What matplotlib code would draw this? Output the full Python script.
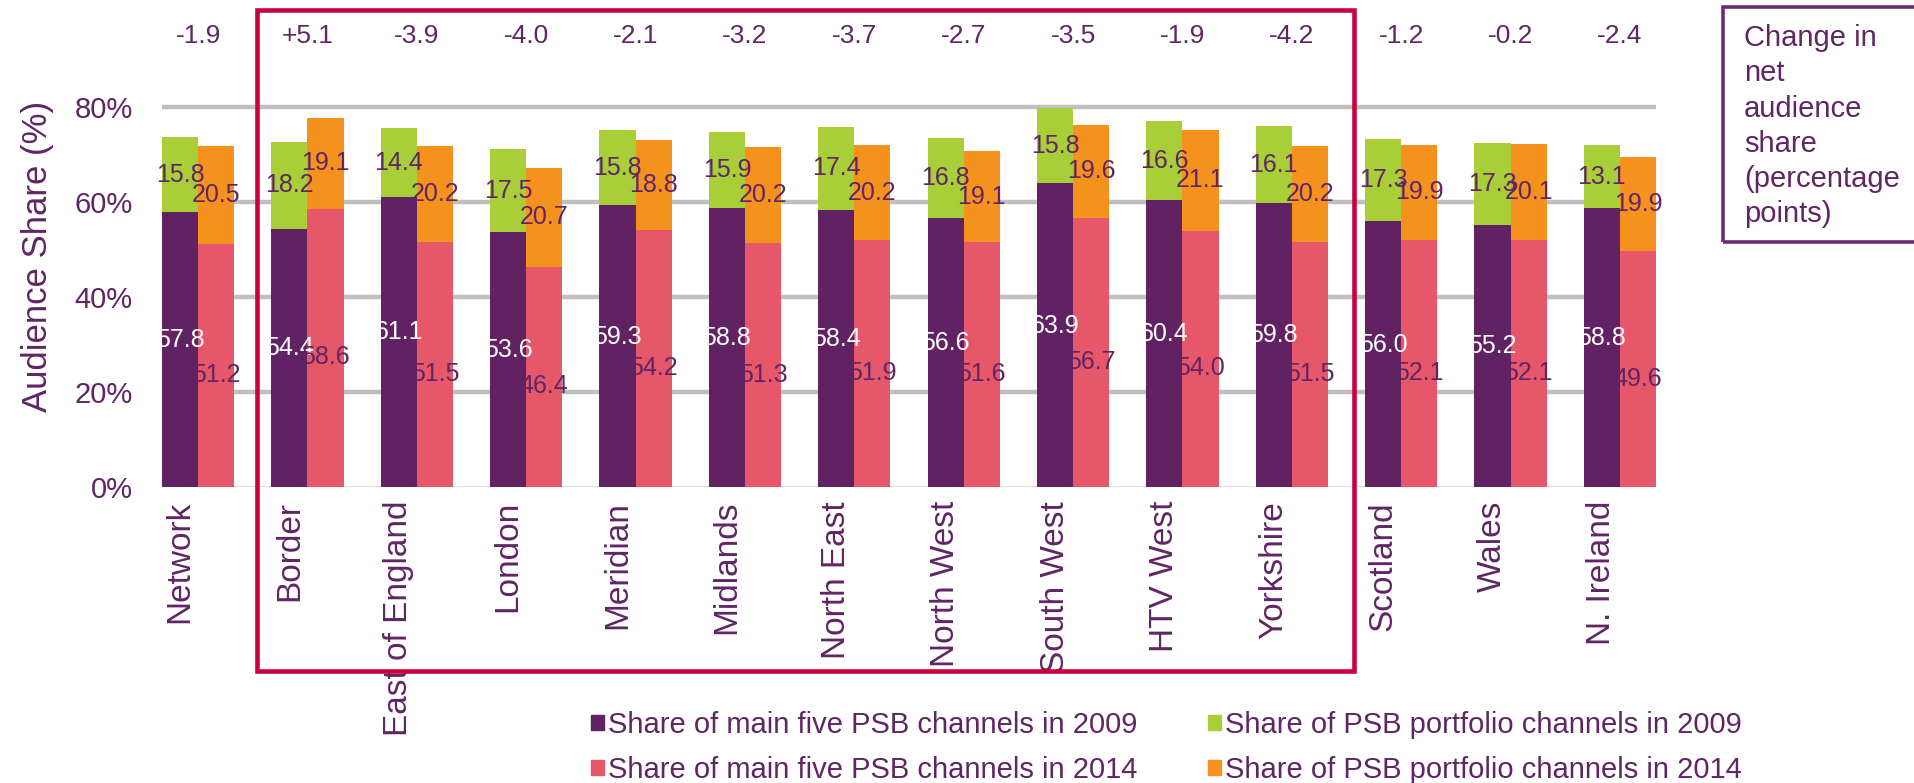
import matplotlib.pyplot as plt
import matplotlib.transforms as mtransforms
from matplotlib.patches import Patch, Rectangle
import numpy as np

plt.rcParams['font.family'] = ['Liberation Sans', 'DejaVu Sans']

regions = ["Network", "Border", "East of England", "London", "Meridian", "Midlands",
           "North East", "North West", "South West", "HTV West", "Yorkshire",
           "Scotland", "Wales", "N. Ireland"]
main_2009 = [57.8, 54.4, 61.1, 53.6, 59.3, 58.8, 58.4, 56.6, 63.9, 60.4, 59.8, 56.0, 55.2, 58.8]
portfolio_2009 = [15.8, 18.2, 14.4, 17.5, 15.8, 15.9, 17.4, 16.8, 15.8, 16.6, 16.1, 17.3, 17.3, 13.1]
main_2014 = [51.2, 58.6, 51.5, 46.4, 54.2, 51.3, 51.9, 51.6, 56.7, 54.0, 51.5, 52.1, 52.1, 49.6]
portfolio_2014 = [20.5, 19.1, 20.2, 20.7, 18.8, 20.2, 20.2, 19.1, 19.6, 21.1, 20.2, 19.9, 20.1, 19.9]
change = ["-1.9", "+5.1", "-3.9", "-4.0", "-2.1", "-3.2", "-3.7", "-2.7", "-3.5", "-1.9", "-4.2",
          "-1.2", "-0.2", "-2.4"]
yticks = [0, 20, 40, 60, 80]
ytick_labels = ["0%", "20%", "40%", "60%", "80%"]

c_main09 = '#602262'
c_port09 = '#A8CE38'
c_main14 = '#E65769'
c_port14 = '#F5921E'
txt = '#5F2564'

fig = plt.figure(figsize=(19.15, 7.83), dpi=100)
ax = fig.add_axes([162 / 1915, 296 / 783, 1494 / 1915, 475 / 783])

x = np.arange(len(regions))
w = 0.33
m09 = np.array(main_2009)
p09 = np.array(portfolio_2009)
m14 = np.array(main_2014)
p14 = np.array(portfolio_2014)

ax.bar(x - w / 2, m09, w, color=c_main09, zorder=3)
ax.bar(x - w / 2, p09, w, bottom=m09, color=c_port09, zorder=3)
ax.bar(x + w / 2, m14, w, color=c_main14, zorder=3)
ax.bar(x + w / 2, p14, w, bottom=m14, color=c_port14, zorder=3)

lab = dict(fontsize=18, ha='center', va='center', zorder=5)
for i in range(len(regions)):
    ax.text(x[i] - w / 2, m09[i] / 2 + 2, f"{m09[i]:.1f}", color='white', **lab)
    ax.text(x[i] - w / 2, m09[i] + p09[i] / 2, f"{p09[i]:.1f}", color=txt, **lab)
    ax.text(x[i] + w / 2, m14[i] / 2 - 2, f"{m14[i]:.1f}", color=txt, **lab)
    ax.text(x[i] + w / 2, m14[i] + p14[i] / 2, f"{p14[i]:.1f}", color=txt, **lab)
    ax.text(x[i], 95.0, change[i], color=txt, fontsize=19, ha='center', va='center')

ax.set_xlim(-w, len(regions) - 1 + w)
ax.set_ylim(0, 100)
for t in yticks[1:]:
    ax.axhline(t, color='#BFBFBF', lw=3.2, zorder=1)
ax.axhline(0, color='#D9D9D9', lw=2, zorder=1)

ax.set_yticks(yticks)
ax.set_yticklabels(ytick_labels, fontsize=21, color=txt)
ax.set_xticks(x)
ax.set_xticklabels(regions, rotation=90, fontsize=24, color=txt, va='top', ha='center')
ax.tick_params(length=0)
ax.tick_params(axis='y', pad=21)
ax.tick_params(axis='x', pad=10)
shift = mtransforms.ScaledTranslation(-0.18, 0, fig.dpi_scale_trans)
for lbl in ax.get_xticklabels():
    lbl.set_transform(lbl.get_transform() + shift)
for s in ax.spines.values():
    s.set_visible(False)

ax.set_ylabel("Audience Share (%)", fontsize=25, color=txt)
ax.yaxis.set_label_coords(-0.072, 0.485)

# red box around English ITV regions
blend = mtransforms.blended_transform_factory(ax.transData, fig.transFigure)
ax.add_patch(Rectangle((0.54, 112 / 783), 10.57 - 0.54, 661 / 783, transform=blend,
                       fill=False, edgecolor='#C9003D', lw=3.3, clip_on=False, zorder=6))

# change in net audience share box
fig.add_artist(Rectangle((1723 / 1915, (783 - 242) / 783), 0.2, 235 / 783,
                         transform=fig.transFigure, fill=False, edgecolor='#6B2C6E', lw=2.6))
fig.text(1744 / 1915, 1 - 24 / 783, "Change in\nnet\naudience\nshare\n(percentage\npoints)",
         fontsize=21, color=txt, ha='left', va='top', linespacing=1.33)

handles = [Patch(color=c_main09), Patch(color=c_main14), Patch(color=c_port09), Patch(color=c_port14)]
labels = ["Share of main five PSB channels in 2009", "Share of main five PSB channels in 2014",
          "Share of PSB portfolio channels in 2009", "Share of PSB portfolio channels in 2014"]
leg = fig.legend(handles, labels, loc='upper left', bbox_to_anchor=(591 / 1915, 72 / 783), ncol=2,
                 frameon=False, fontsize=21, handlelength=0.45, handleheight=0.45,
                 handletextpad=0.15, columnspacing=2.4, labelspacing=0.58,
                 borderpad=0, borderaxespad=0)
for t in leg.get_texts():
    t.set_color(txt)

fig.savefig('out.png', dpi=100)
